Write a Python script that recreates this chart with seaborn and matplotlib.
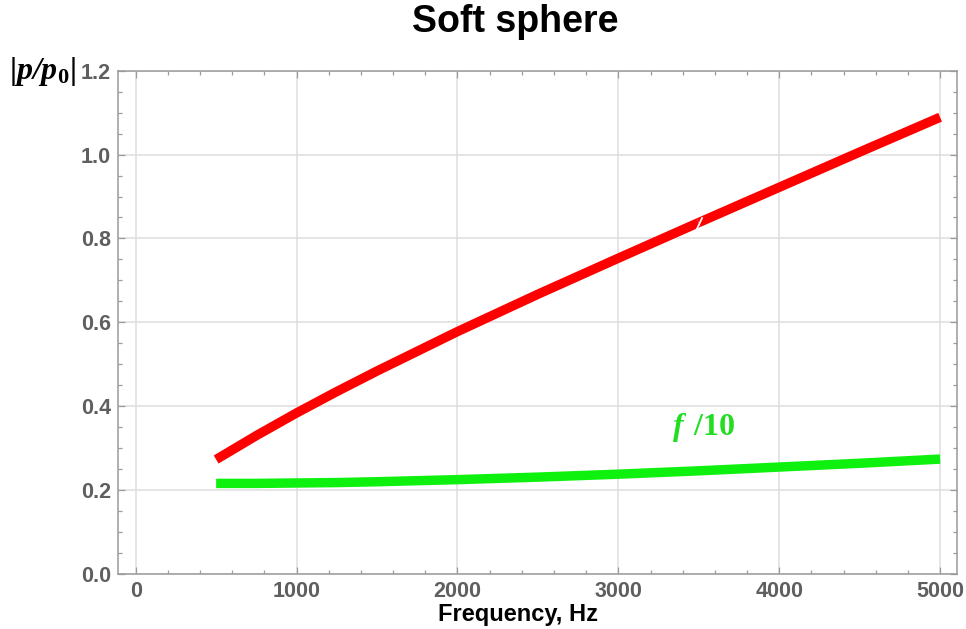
import numpy as np
import pandas as pd
import matplotlib
matplotlib.use("Agg")
import matplotlib.pyplot as plt
from matplotlib.ticker import MultipleLocator
import seaborn as sns

# Scattered pressure magnitude of a soft sphere versus frequency
freq_hz = [500, 750, 1000, 1250, 1500, 2000, 2500, 3000, 3500, 4000, 4500, 5000]
p_ratio = [0.273, 0.330, 0.384, 0.435, 0.484, 0.578, 0.667, 0.753, 0.838, 0.922, 1.006, 1.089]
f_over_10 = [0.216, 0.216, 0.217, 0.218, 0.220, 0.225, 0.231, 0.238, 0.246, 0.255, 0.264, 0.274]

x_ticks = [0, 1000, 2000, 3000, 4000, 5000]
y_ticks = [0.0, 0.2, 0.4, 0.6, 0.8, 1.0, 1.2]

sns.set_theme(style="white")
plt.rcParams["font.family"] = ["Liberation Sans", "DejaVu Sans"]
plt.rcParams["mathtext.fontset"] = "custom"
plt.rcParams["mathtext.bf"] = "Liberation Serif:bold"
plt.rcParams["mathtext.bfit"] = "Liberation Serif:bold:italic"
plt.rcParams["mathtext.it"] = "Liberation Serif:bold:italic"
plt.rcParams["mathtext.rm"] = "Liberation Serif:bold"

RED = "#ff0000"
GREEN = "#0ef00e"
FRAME = "#9a9a9a"
TICKTXT = "#5f5f5f"

df = pd.DataFrame({"freq": freq_hz, "p": p_ratio, "f": f_over_10})

fig = plt.figure(figsize=(9.66, 6.29), dpi=100)
ax = fig.add_axes([118 / 966, 1 - 574 / 629, (957 - 118) / 966, (574 - 70.7) / 629])

# red curve is drawn in two pieces, split at 3500 Hz
first = df[df["freq"] <= 3500]
second = df[df["freq"] >= 3500]
sns.lineplot(data=first, x="freq", y="p", color=RED, linewidth=6.8, ax=ax,
             solid_capstyle="butt", zorder=3)
sns.lineplot(data=second, x="freq", y="p", color=RED, linewidth=6.8, ax=ax,
             solid_capstyle="butt", zorder=3)
sns.lineplot(data=df, x="freq", y="f", color=GREEN, linewidth=6.8, ax=ax,
             solid_capstyle="butt", zorder=3)
# thin white cut at the join of the two red pieces
ax.plot([3500], [p_ratio[freq_hz.index(3500)]], marker=(2, 0, -25), markersize=10,
        markeredgewidth=1.3, color="white", zorder=4)

ax.set_xlim(-110, 5105)
ax.set_ylim(0, 1.2)
ax.set_xticks(x_ticks)
ax.set_yticks(y_ticks)
ax.set_xticklabels([str(v) for v in x_ticks])
ax.set_yticklabels([f"{v:.1f}" for v in y_ticks])
ax.xaxis.set_minor_locator(MultipleLocator(200))
ax.yaxis.set_minor_locator(MultipleLocator(0.05))

ax.grid(True, which="major", color="#dedede", linewidth=1.1)
ax.set_axisbelow(True)
for s in ax.spines.values():
    s.set_visible(True)
    s.set_color(FRAME)
    s.set_linewidth(1.1)

ax.tick_params(which="both", direction="in", top=True, right=True, bottom=True, left=True,
               color=FRAME, width=0.9)
ax.tick_params(which="major", length=5)
ax.tick_params(which="minor", length=3)
ax.tick_params(axis="both", which="major", labelsize=15.5, labelcolor=TICKTXT, pad=5)
for lab in ax.get_xticklabels() + ax.get_yticklabels():
    lab.set_fontweight("bold")

ax.set_xlabel("Frequency, Hz", fontsize=17, fontweight="bold", color="black")
ax.xaxis.set_label_coords((518 - 118) / 839, -0.058)
ax.set_ylabel("")

fig.text(515 / 966, 1 - 22 / 629, "Soft sphere", ha="center", va="center",
         fontsize=27, fontweight="bold", color="black")

fig.text(9 / 966, 1 - 71 / 629, r"$\mathbf{|}\mathbfit{p/p}_{\mathbf{0}}\mathbf{|}$",
         ha="left", va="center", fontsize=23, color="black")

ax.text(3335, 0.331, r"$\mathit{f}\;\,\mathbf{/10}$", color="#22dd22", fontsize=23,
        ha="left", va="baseline")

fig.savefig("out.png", dpi=100, facecolor="white")
